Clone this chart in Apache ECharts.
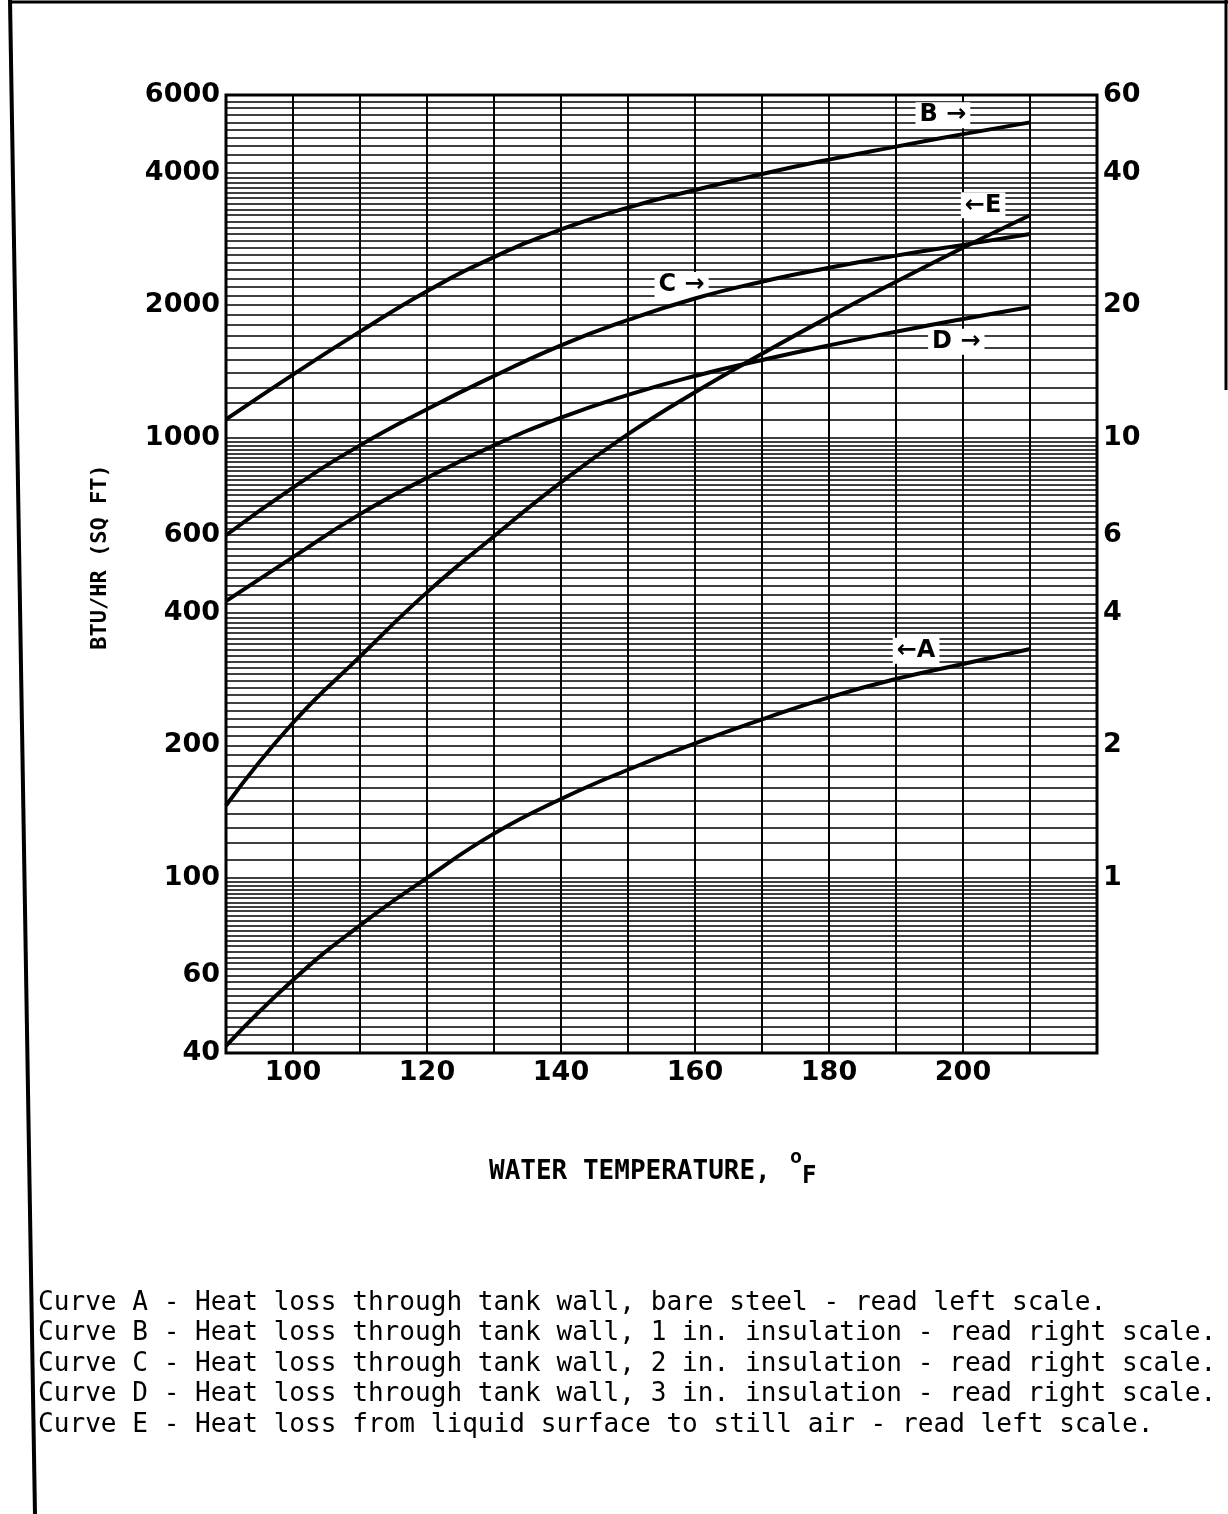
<!DOCTYPE html>
<html>
<head>
<meta charset="utf-8">
<script src="https://cdn.jsdelivr.net/npm/echarts@6/dist/echarts.min.js"></script>
<style>
html,body{margin:0;padding:0;background:#fff;}
#chart{width:1228px;height:1514px;}
</style>
</head>
<body>
<div id="chart"></div>
<script>
// Water temperature, deg F
const temps = [90, 100, 110, 120, 130, 140, 150, 160, 170, 180, 190, 200, 210];
// Curve A - bare steel (left scale, BTU/HR SQ FT)
const curveA = [41.5, 58.6, 78, 100, 126, 151, 176, 202, 229, 257, 283, 306, 331];
// Curve B - 1 in. insulation (right scale)
const curveB = [11.0, 13.9, 17.4, 21.5, 25.7, 29.7, 33.3, 36.5, 39.7, 42.8, 45.8, 48.9, 52.0];
// Curve C - 2 in. insulation (right scale)
const curveC = [6.0, 7.7, 9.6, 11.6, 13.8, 16.2, 18.5, 20.7, 22.6, 24.3, 25.9, 27.4, 29.0];
// Curve D - 3 in. insulation (right scale)
const curveD = [4.25, 5.35, 6.7, 8.1, 9.6, 11.1, 12.5, 13.8, 15.0, 16.2, 17.4, 18.6, 19.8];
// Curve E - liquid surface to still air (left scale)
const curveE = [146, 225, 318, 445, 597, 791, 1018, 1268, 1550, 1880, 2260, 2700, 3200];

// Tick labels
const leftLabelValues = [40, 60, 100, 200, 400, 600, 1000, 2000, 4000, 6000];
const rightLabelValues = [1, 2, 4, 6, 10, 20, 40, 60];
const xLabelValues = [100, 120, 140, 160, 180, 200];

// Log-paper ruling: [from, to, step] on the left scale
const rulingRanges = [[40, 100, 2], [100, 400, 10], [400, 1000, 20], [1000, 4000, 100], [4000, 6000, 200]];

// Curve tag annotations: [text, x, y]
const tagB = ['B \u2192', 197, 54];
const tagE = ['\u2190E', 203, 3370];
const tagC = ['C \u2192', 158, 22.2];
const tagD = ['D \u2192', 199, 16.5];
const tagA = ['\u2190A', 193, 328];

const legendLines = [
  'Curve A - Heat loss through tank wall, bare steel - read left scale.',
  'Curve B - Heat loss through tank wall, 1 in. insulation - read right scale.',
  'Curve C - Heat loss through tank wall, 2 in. insulation - read right scale.',
  'Curve D - Heat loss through tank wall, 3 in. insulation - read right scale.',
  'Curve E - Heat loss from liquid surface to still air - read left scale.'
];

const rulingValues = [];
rulingRanges.forEach(function (r) {
  for (let v = r[0]; v < r[1] - 1e-9; v += r[2]) rulingValues.push(Math.round(v * 1000) / 1000);
});
rulingValues.push(6000);

function pairs(ys) { return temps.map(function (t, i) { return [t, ys[i]]; }); }

const tagLabel = {
  show: true, color: '#000', fontFamily: 'DejaVu Sans', fontWeight: 'bold', fontSize: 24,
  backgroundColor: '#fff', padding: [1, 4, 1, 4]
};
function tag(t) {
  return {
    symbol: 'rect', symbolSize: 0, silent: true,
    label: Object.assign({ formatter: t[0], position: 'inside' }, tagLabel),
    data: [{ coord: [t[1], t[2]] }]
  };
}

const lineSeries = function (name, data, yIdx, t) {
  return {
    name: name, type: 'line', yAxisIndex: yIdx, data: pairs(data), smooth: 0.5,
    symbol: 'none', z: 5, lineStyle: { color: '#000', width: 4 }, markPoint: tag(t), silent: true
  };
};

const axisFont = { color: '#000', fontFamily: 'DejaVu Sans', fontSize: 27, fontWeight: 'bold' };

const chart = echarts.init(document.getElementById('chart'), null, { renderer: 'canvas' });

const graphics = [
  { type: 'line', shape: { x1: 10, y1: 2, x2: 1228, y2: 2 }, style: { stroke: '#000', lineWidth: 3 } },
  { type: 'line', shape: { x1: 10, y1: 0, x2: 35, y2: 1514 }, style: { stroke: '#000', lineWidth: 4 } },
  { type: 'line', shape: { x1: 1226, y1: 0, x2: 1226, y2: 390 }, style: { stroke: '#000', lineWidth: 3 } },
  { type: 'text', x: 100, y: 557, rotation: Math.PI / 2,
    style: { text: 'BTU/HR (SQ FT)', font: 'bold 22px "DejaVu Sans Mono"', fill: '#000', align: 'center', verticalAlign: 'middle' } },
  { type: 'text', x: 489, y: 1172,
    style: { text: 'WATER TEMPERATURE,', font: 'bold 26px "DejaVu Sans Mono"', fill: '#000', align: 'left', verticalAlign: 'middle' } },
  { type: 'text', x: 790, y: 1158,
    style: { text: 'o', font: 'bold 20px "DejaVu Sans Mono"', fill: '#000', align: 'left', verticalAlign: 'middle' } },
  { type: 'text', x: 802, y: 1177,
    style: { text: 'F', font: 'bold 24px "DejaVu Sans Mono"', fill: '#000', align: 'left', verticalAlign: 'middle' } }
];
legendLines.forEach(function (s, i) {
  graphics.push({ type: 'text', x: 38, y: 1303 + i * 30.5,
    style: { text: s, font: '26.1px "DejaVu Sans Mono"', fill: '#000', align: 'left', verticalAlign: 'middle' } });
});

chart.setOption({
  animation: false,
  backgroundColor: '#fff',
  grid: { left: 226, right: 131, top: 95, bottom: 461, show: true, borderColor: '#000', borderWidth: 3, backgroundColor: 'transparent' },
  xAxis: {
    type: 'value', min: 90, max: 220, interval: 10,
    axisLine: { show: false }, axisTick: { show: false },
    splitLine: { show: true, lineStyle: { color: '#000', width: 2 } },
    axisLabel: Object.assign({ margin: 6,
      formatter: function (v) { return xLabelValues.indexOf(v) >= 0 ? String(v) : ''; } }, axisFont)
  },
  yAxis: [
    {
      type: 'log', logBase: 10, min: 40, max: 6000, position: 'left',
      axisLine: { show: false },
      axisTick: { show: false, customValues: rulingValues },
      splitLine: { show: true, lineStyle: { color: '#000', width: 1.6 } },
      axisLabel: Object.assign({ customValues: leftLabelValues, margin: 6, formatter: function (v) { return String(Math.round(v)); } }, axisFont)
    },
    {
      type: 'log', logBase: 10, min: 0.4, max: 60, position: 'right',
      axisLine: { show: false }, axisTick: { show: false }, splitLine: { show: false },
      axisLabel: Object.assign({ customValues: rightLabelValues, margin: 6, formatter: function (v) { return String(Math.round(v)); } }, axisFont)
    }
  ],
  graphic: graphics,
  series: [
    lineSeries('A', curveA, 0, tagA),
    lineSeries('B', curveB, 1, tagB),
    lineSeries('C', curveC, 1, tagC),
    lineSeries('D', curveD, 1, tagD),
    lineSeries('E', curveE, 0, tagE)
  ]
});
</script>
</body>
</html>
